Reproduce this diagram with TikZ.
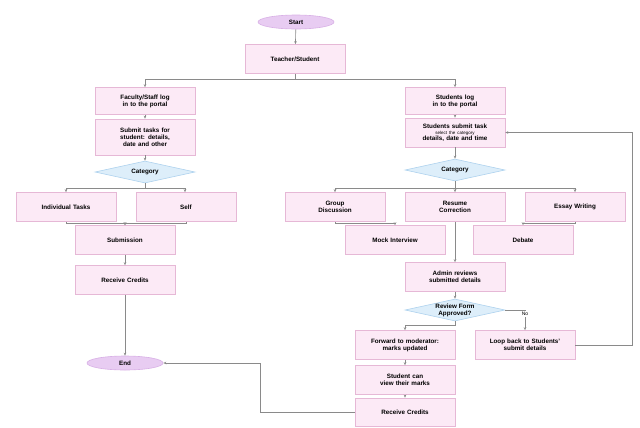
\documentclass[tikz,border=0pt]{standalone}
\usepackage{fontspec}
\setmainfont{Liberation Sans}
\usetikzlibrary{shapes.geometric,arrows.meta}
\newcommand\nohyphs{\hyphenpenalty=10000\relax\exhyphenpenalty=10000\relax}
\definecolor{boxfill}{HTML}{FCEAF6}
\definecolor{boxdraw}{HTML}{E6B8D6}
\definecolor{termfill}{HTML}{E8CCF2}
\definecolor{termdraw}{HTML}{D8B0E6}
\definecolor{decfill}{HTML}{DDEEFA}
\definecolor{decdraw}{HTML}{AED2EE}
\definecolor{linec}{HTML}{8A8A8A}
\tikzset{
  proc/.style={rectangle, draw=boxdraw, fill=boxfill, line width=0.6bp, minimum width=100bp, minimum height=29bp, text width=76bp, align=center, inner sep=1bp, font=\fontsize{6.3}{6.8}\selectfont\bfseries\nohyphs},
  term/.style={ellipse, draw=termdraw, fill=termfill, line width=0.6bp, minimum width=76bp, minimum height=14bp, inner sep=0bp, font=\fontsize{6.3}{6.8}\selectfont\bfseries},
  dec/.style={diamond, aspect=4.5, draw=decdraw, fill=decfill, line width=0.6bp, minimum width=100bp, minimum height=22bp, inner sep=0bp, align=center, font=\fontsize{6.3}{6.8}\selectfont\bfseries},
  conn/.style={draw=linec, line width=0.6bp, -{Stealth[length=3bp,width=2.5bp]}},
  lbl/.style={font=\fontsize{5}{5.5}\selectfont, inner sep=1bp}
}
\begin{document}
\begin{tikzpicture}[x=1bp,y=-1bp]
\useasboundingbox[fill=white] (0,0) rectangle (640,427);
% terminals
\node[term] (start) at (296,22) {Start};
\node[term] (end) at (125,363) {End};
% top
\node[proc] (top) at (295,59) {Teacher/Student};
% left branch
\node[proc, minimum height=27bp] (l1) at (145,101) {Faculty/Staff log in to the portal};
\node[proc, minimum height=36bp] (l2) at (145,137) {Submit tasks for student: details, date and other};
\node[dec] (ldec) at (145,172) {Category};
\node[proc] (ind) at (66,207) {Individual Tasks};
\node[proc] (self) at (186,207) {Self};
\node[proc] (sub) at (125,240) {Submission};
\node[proc] (rc) at (125,280) {Receive Credits};
% right branch
\node[proc, minimum height=27bp] (r1) at (455,101) {Students log in to the portal};
\node[proc] (r2) at (455,132.5) {Students submit task\\[-1bp]{\fontsize{4.5}{5}\selectfont\mdseries select the category}\\[-1bp]details, date and time};
\node[dec] (rdec) at (455,170) {Category};
\node[proc] (gd) at (335,207) {Group\\Discussion};
\node[proc] (rd) at (455,207) {Resume\\Correction};
\node[proc] (ew) at (575,207) {Essay Writing};
\node[proc] (mi) at (395,240) {Mock Interview};
\node[proc] (deb) at (523,240) {Debate};
\node[proc] (adm) at (455,277) {Admin reviews submitted details};
\node[dec] (rev) at (455,310) {Review Form\\Approved?};
\node[proc] (fwd) at (405,345) {Forward to moderator: marks updated};
\node[proc] (loop) at (525,345) {Loop back to Students' submit details};
\node[proc] (view) at (405,380) {Student can view their marks};
\node[proc, minimum height=28bp] (rc2) at (405,412) {Receive Credits};
% connectors
\draw[conn] (start) -- (top);
\draw[conn] (top.south) -- ++(0,5) -| (l1.north);
\draw[conn] (top.south) -- ++(0,5) -| (r1.north);
\draw[conn] (l1) -- (l2);
\draw[conn] (l2) -- (ldec);
\draw[conn] (ldec.south) -- ++(0,5) -| (ind.north);
\draw[conn] (ldec.south) -- ++(0,5) -| ([xshift=-1bp]self.north);
\draw[conn] (ind.south) -- ++(0,1.5) -| (sub.north);
\draw[conn] (self.south) -- ++(0,1.5) -| (sub.north);
\draw[conn] (sub) -- (rc);
\draw[conn] (rc) -- (end);
\draw[conn] (r1) -- (r2);
\draw[conn] (r2) -- (rdec);
\draw[conn] (rdec.south) -- ++(0,7) -| (gd.north);
\draw[conn] (rdec.south) -- (rd.north);
\draw[conn] (rdec.south) -- ++(0,7) -| (ew.north);
\draw[conn] (gd.south) -- ++(0,1.5) -| (mi.north);
\draw[conn] (ew.south) -- ++(0,1.5) -| (deb.north);
\draw[conn] (rd) -- (adm);
\draw[conn] (adm) -- (rev);
\draw[conn] (rev.south) -- ++(0,4) -| (fwd.north);
\draw[conn] (rev.east) -| node[lbl, pos=0.6, fill=white] {No} (loop.north);
\draw[conn] (loop.east) -- ++(57,0) coordinate (lc) |- (r2.east);
\draw[conn] (fwd) -- (view);
\draw[conn] (view) -- (rc2);
\draw[conn] (rc2.west) -| (260,363) -- (end.east);
\end{tikzpicture}
\end{document}
